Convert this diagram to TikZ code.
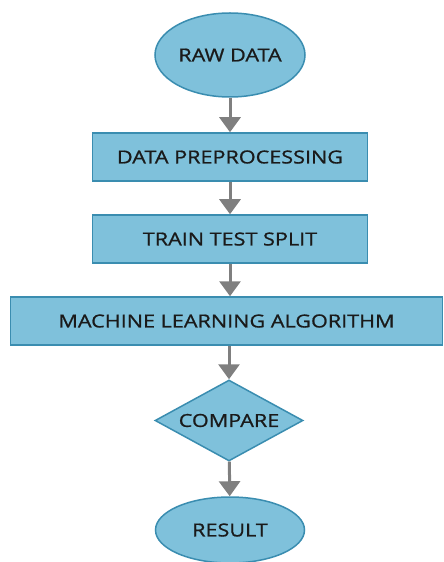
\documentclass[tikz,border=0pt]{standalone}
\usepackage{fontspec}
\setmainfont{Open Sans}
\newfontfamily\lblfont{Open Sans}[FakeStretch=1.2,FakeBold=0.9]
\usetikzlibrary{shapes.geometric,arrows.meta}
\definecolor{boxfill}{HTML}{7FC1DB}
\definecolor{boxline}{HTML}{3A8DB0}
\definecolor{arrowgray}{HTML}{7F7F7F}
\definecolor{txt}{HTML}{1A1A1A}
\tikzset{
  shapebase/.style={fill=boxfill,draw=boxline,line width=1.5bp,text=txt,font=\lblfont\fontsize{18bp}{20bp}\selectfont,inner sep=0pt},
  procbox/.style={shapebase,rectangle,minimum height=48bp},
  termnode/.style={shapebase,ellipse,minimum width=150bp,minimum height=84bp},
  decnode/.style={shapebase,diamond,minimum width=148bp,minimum height=81bp,aspect=1.83},
  flow/.style={draw=arrowgray,line width=3bp,-{Triangle[width=21bp,length=15bp]}}
}
\begin{document}
\begin{tikzpicture}[x=1bp,y=-1bp]
\useasboundingbox (0,0) rectangle (444,562);
\node[termnode] (raw) at (230,55) {RAW DATA};
\node[procbox,minimum width=275bp] (pre) at (230,157) {DATA PREPROCESSING};
\node[procbox,minimum width=275bp] (split) at (230,239) {TRAIN TEST SPLIT};
\node[procbox,minimum width=432bp] (ml) at (226.5,321) {MACHINE LEARNING ALGORITHM};
\node[decnode] (cmp) at (229,420.5) {COMPARE};
\node[termnode,minimum width=149bp,minimum height=66bp] (res) at (230,530) {RESULT};
\draw[flow] (raw) -- (pre);
\draw[flow] (pre) -- (split);
\draw[flow] (split.south) -- (split.south |- ml.north);
\draw[flow] (ml.south -| cmp.north) -- (cmp.north);
\draw[flow] (cmp) -- (res);
\end{tikzpicture}
\end{document}
